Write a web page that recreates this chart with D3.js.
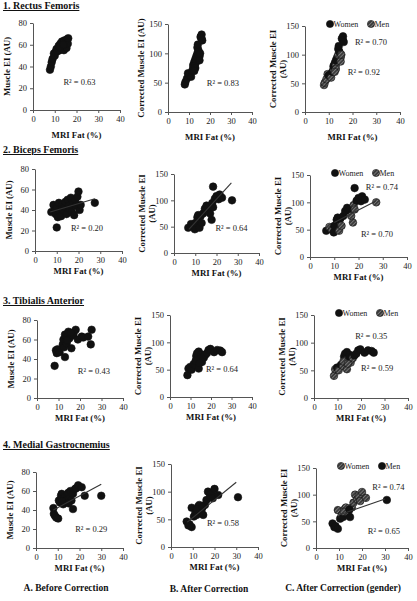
<!DOCTYPE html>
<html><head><meta charset="utf-8">
<script src="https://cdn.jsdelivr.net/npm/d3@7"></script>
<style>
body{margin:0;background:#fff;}
svg{display:block;font-family:"Liberation Serif","DejaVu Serif",serif;}
</style></head>
<body><svg id="c" width="417" height="601"></svg>
<script>
// ---------------- DATA ----------------
const xTicks = [0, 10, 20, 30, 40];
const yTicksBefore = [0, 20, 40, 60, 80];
const yTicksCorrected = [0, 50, 100, 150];
const muscleTitles = ["1. Rectus Femoris", "2. Biceps Femoris", "3. Tibialis Anterior", "4. Medial Gastrocnemius"];
const columnCaptions = ["A. Before Correction", "B. After Correction", "C. After Correction (gender)"];
const legendLabels = ["Women", "Men"];

// 1. Rectus Femoris
const rfFatA = [7.8, 8.2, 8.6, 9.0, 9.6, 10.0, 10.3, 10.8, 11.3, 11.8, 12.2, 12.6, 13.0, 13.3, 13.6, 13.9, 14.2, 14.5, 14.8, 15.1, 15.4, 15.7, 16.0, 16.2, 12.4, 14.0];
const rfEIA  = [37, 40, 44, 47, 52, 50, 53, 56, 54, 59, 55, 61, 57, 63, 58, 61, 55, 64, 59, 62, 57, 65, 61, 66, 58, 60];
const rfFatB = [8.0, 8.3, 9.0, 9.5, 10.0, 11.0, 11.5, 12.0, 12.0, 12.5, 13.0, 13.0, 13.5, 14.0, 14.0, 14.5, 14.2, 15.0, 15.0, 15.5, 16.0, 16.0, 16.3, 15.3, 13.0, 12.5];
const rfEIB  = [47, 51, 57, 66, 64, 60, 70, 75, 80, 85, 82, 90, 95, 100, 110, 105, 115, 95, 88, 128, 132, 125, 122, 100, 75, 70];
const rfSex  = ["M","M","M","M","W","M","W","M","W","W","M","W","W","M","W","W","W","M","M","W","W","W","W","M","M","M"];

// 2. Biceps Femoris
const bfFatA = [7.5, 8.5, 9.0, 9.5, 10.0, 10.0, 10.5, 11.0, 11.5, 12.0, 12.5, 13.0, 13.5, 14.0, 14.5, 15.0, 15.5, 16.0, 16.5, 17.0, 17.5, 18.0, 18.5, 19.0, 19.5, 20.0, 20.5, 21.0, 27.5];
const bfEIA  = [38, 45, 40, 36, 42, 23, 33, 47, 38, 34, 45, 40, 43, 48, 36, 50, 44, 41, 52, 38, 47, 35, 50, 44, 53, 58, 40, 45, 47];
const bfFatB = [6.7, 8.0, 9.0, 9.8, 10.0, 11.0, 11.4, 12.0, 12.5, 13.0, 13.7, 14.5, 15.3, 16.0, 16.5, 17.0, 17.7, 18.0, 18.4, 18.4, 19.2, 20.0, 21.0, 21.5, 22.6, 27.3];
const bfEIB  = [48, 55, 50, 45, 57, 68, 72, 48, 70, 57, 75, 84, 90, 85, 88, 75, 63, 95, 87, 126, 103, 108, 102, 111, 105, 100];
const bfSex  = ["W","M","M","W","W","W","W","M","W","M","W","W","W","W","W","M","M","M","M","W","W","W","W","W","W","M"];

// 3. Tibialis Anterior
const taFatA = [8.2, 8.8, 9.2, 9.6, 10.5, 12.0, 12.3, 12.6, 13.0, 13.0, 13.4, 13.8, 14.2, 14.6, 15.0, 15.4, 16.0, 16.5, 17.0, 18.0, 19.0, 20.8, 21.5, 23.8, 25.0, 25.4, 14.0, 15.8];
const taEIA  = [33, 49, 46, 50, 47, 55, 60, 52, 65, 42, 58, 56, 63, 68, 61, 66, 51, 64, 66, 70, 60, 63, 62, 63, 55, 70, 59, 67];
const taFatB = [8.5, 9.0, 9.8, 10.5, 11.5, 12.3, 12.8, 13.2, 13.5, 14.0, 14.0, 14.8, 15.2, 15.6, 16.0, 16.5, 17.2, 18.0, 18.8, 19.7, 21.5, 23.0, 24.5, 25.4, 12.5, 14.4];
const taEIB  = [40, 52, 55, 50, 60, 58, 75, 80, 68, 83, 52, 70, 78, 64, 74, 72, 77, 80, 86, 88, 82, 86, 85, 82, 66, 62];
const taSex  = ["M","M","W","M","W","M","W","W","M","W","M","W","W","M","W","M","W","W","W","W","W","W","W","W","M","M"];

// 4. Medial Gastrocnemius
const mgFatA = [8.0, 8.2, 8.7, 9.3, 10.2, 10.5, 11.0, 11.5, 11.8, 12.2, 12.5, 13.0, 13.3, 13.8, 14.3, 14.8, 15.3, 15.8, 16.3, 17.0, 17.0, 17.9, 18.5, 19.4, 21.0, 22.4, 30.0, 12.0, 15.0];
const mgEIA  = [42, 36, 34, 32, 31, 50, 48, 55, 57, 52, 46, 54, 53, 50, 56, 58, 52, 60, 50, 57, 41, 62, 63, 66, 64, 55, 55, 49, 47];
const mgFatB = [7.2, 8.0, 8.5, 9.5, 9.5, 10.5, 11.2, 11.8, 12.5, 13.0, 13.5, 14.0, 14.8, 15.6, 16.3, 17.0, 17.9, 18.5, 19.2, 20.0, 21.7, 30.8, 12.0, 14.5];
const mgEIB  = [46, 39, 41, 36, 71, 55, 62, 58, 73, 76, 64, 67, 58, 76, 85, 100, 91, 97, 88, 105, 94, 90, 68, 72];
const mgSex  = ["M","M","M","M","W","M","W","M","W","W","M","W","M","W","W","W","W","W","W","W","W","M","W","M"];

// Visible trend lines [x0, y0, x1, y1] in data units
const fitBF_A = [7, 38, 27.5, 51];
const fitBF_B = [7, 45, 27, 133];
const fitBF_Cmen = [10, 63, 27, 102];
const fitMG_A = [8, 40, 30, 67];
const fitMG_B = [7.5, 45, 30, 117];
const fitMG_Cmen = [10, 62, 30, 92];

// R² values
const r2A = ["0.63", "0.20", "0.43", "0.29"];
const r2B = ["0.83", "0.64", "0.64", "0.58"];
const r2CWomen = ["0.70", "0.74", "0.35", "0.74"];
const r2CMen = ["0.92", "0.70", "0.59", "0.65"];

// ---------------- DRAW ----------------
const svg = d3.select("#c");
const defs = svg.append("defs");
const pat = defs.append("pattern").attr("id","hatch").attr("patternUnits","userSpaceOnUse")
  .attr("width",2.6).attr("height",2.6).attr("patternTransform","rotate(45)");
pat.append("rect").attr("width",2.6).attr("height",2.6).attr("fill","#3a3a3a");
pat.append("line").attr("x1",0).attr("y1",0).attr("x2",0).attr("y2",2.6).attr("stroke","#b5b5b5").attr("stroke-width",0.9);

const FS_TICK = 8.5, FS_AXT = 8.8, FS_R2 = 8.5;

const muscles = [
  {fatA: rfFatA, eiA: rfEIA, fatB: rfFatB, eiB: rfEIB, sex: rfSex, fitA: null, fitB: null, fitC: null},
  {fatA: bfFatA, eiA: bfEIA, fatB: bfFatB, eiB: bfEIB, sex: bfSex, fitA: fitBF_A, fitB: fitBF_B, fitC: fitBF_Cmen},
  {fatA: taFatA, eiA: taEIA, fatB: taFatB, eiB: taEIB, sex: taSex, fitA: null, fitB: null, fitC: null},
  {fatA: mgFatA, eiA: mgEIA, fatB: mgFatB, eiB: mgEIB, sex: mgSex, fitA: fitMG_A, fitB: fitMG_B, fitC: fitMG_Cmen}
];

// layout: pixel frame for each panel: [x at 0, x at 40, y at top value, y at 0]
const frames = [
  [[33,120,23,110],[168,252,24,112],[305,400,26,112]],
  [[35,122,169,251],[174,259,174,253],[310,407,175,257]],
  [[37,123,320,398],[170,252,315,397],[314,408,315,398]],
  [[36,123,472,548],[171,258,464,547],[316,408,468,548]]
];
const titleY = [9, 153, 304, 448];
// R² label anchor in data units
const r2PosA = [[14,23],[16.5,20],[19,25],[18,17]];
const r2PosB = [[18.5,44],[19.5,41],[17.5,46],[16.5,38]];
const r2PosCW = [[21,116],[23,122],[17.5,106],[24.5,108]];
const r2PosCM = [[18,65],[21,37],[20,48],[22.5,27]];

function drawAxes(g, x, y, yTicks){
  const xa = g.append("g").attr("transform",`translate(0,${y.range()[0]})`)
    .call(d3.axisBottom(x).tickValues(xTicks).tickSize(3).tickPadding(3).tickSizeOuter(0));
  const ya = g.append("g").attr("transform",`translate(${x.range()[0]},0)`)
    .call(d3.axisLeft(y).tickValues(yTicks).tickSize(3).tickPadding(3).tickSizeOuter(0));
  [xa, ya].forEach(a=>{
    a.selectAll("path,line").attr("stroke","#555").attr("stroke-width",1);
    a.selectAll("text").attr("font-size",FS_TICK).attr("fill","#222").attr("font-family","Liberation Serif");
  });
}

function drawPoints(g, x, y, fx, fy, sex, styleFor){
  g.selectAll(null).data(fx.map((v,i)=>({x:v,y:fy[i],s:sex?sex[i]:"W"}))).enter()
    .append("circle").attr("cx",d=>x(d.x)).attr("cy",d=>y(d.y)).attr("r",3.8)
    .attr("fill",d=>styleFor(d.s)).attr("stroke","#111").attr("stroke-width",0.6);
}

function drawFit(g, x, y, f){
  if(!f) return;
  g.append("line").attr("x1",x(f[0])).attr("y1",y(f[1])).attr("x2",x(f[2])).attr("y2",y(f[3]))
    .attr("stroke","#333").attr("stroke-width",1.1);
}

function r2Text(g, x, y, pos, val){
  g.append("text").attr("x",x(pos[0])).attr("y",y(pos[1])).attr("font-size",FS_R2).attr("fill","#222")
    .text("R² = " + val);
}

muscles.forEach((m, r)=>{
  svg.append("text").attr("x",3).attr("y",titleY[r]).attr("font-size",10).attr("font-weight","bold")
    .attr("text-decoration","underline").attr("fill","#111").text(muscleTitles[r]);

  for(let c=0;c<3;c++){
    const fr = frames[r][c];
    const x = d3.scaleLinear().domain([0,40]).range([fr[0],fr[1]]);
    const ymax = c===0 ? 80 : 150;
    const y = d3.scaleLinear().domain([0,ymax]).range([fr[3],fr[2]]);
    const g = svg.append("g");
    drawAxes(g, x, y, c===0 ? yTicksBefore : yTicksCorrected);

    // x title
    g.append("text").attr("x",(fr[0]+fr[1])/2).attr("y",fr[3]+(r===0?28:23))
      .attr("text-anchor","middle").attr("font-size",FS_AXT).attr("font-weight","bold").attr("fill","#111").text("MRI Fat (%)");

    // y title
    const cy = (fr[2]+fr[3])/2;
    if(c===0){
      g.append("text").attr("transform",`translate(${fr[0]-23},${cy}) rotate(-90)`).attr("text-anchor","middle")
        .attr("font-size",FS_AXT).attr("font-weight","bold").attr("fill","#111").text("Muscle EI (AU)");
    } else if(c===1 && r===0){
      g.append("text").attr("transform",`translate(${fr[0]-24},${cy}) rotate(-90)`).attr("text-anchor","middle")
        .attr("font-size",FS_AXT).attr("font-weight","bold").attr("fill","#111").text("Corrected Muscle EI (AU)");
    } else {
      const lx = fr[0]-29;
      g.append("text").attr("transform",`translate(${lx},${cy}) rotate(-90)`).attr("text-anchor","middle")
        .attr("font-size",FS_AXT).attr("font-weight","bold").attr("fill","#111").text("Corrected Muscle EI");
      g.append("text").attr("transform",`translate(${lx+10},${cy}) rotate(-90)`).attr("text-anchor","middle")
        .attr("font-size",FS_AXT).attr("font-weight","bold").attr("fill","#111").text("(AU)");
    }

    if(c===0){
      drawPoints(g, x, y, m.fatA, m.eiA, null, ()=>"#111");
      drawFit(g, x, y, m.fitA);
      r2Text(g, x, y, r2PosA[r], r2A[r]);
    } else if(c===1){
      drawPoints(g, x, y, m.fatB, m.eiB, null, ()=>"#111");
      drawFit(g, x, y, m.fitB);
      r2Text(g, x, y, r2PosB[r], r2B[r]);
    } else {
      // row 4 has swapped legend styles (women hatched, men solid)
      const womenStyle = r===3 ? "url(#hatch)" : "#111";
      const menStyle = r===3 ? "#111" : "url(#hatch)";
      drawPoints(g, x, y, m.fatB, m.eiB, m.sex, s=> s==="W" ? womenStyle : menStyle);
      drawFit(g, x, y, m.fitC);
      r2Text(g, x, y, r2PosCW[r], r2CWomen[r]);
      r2Text(g, x, y, r2PosCM[r], r2CMen[r]);
      // legend
      const ly = fr[2] - 2;
      [[womenStyle, legendLabels[0], fr[0]+25],[menStyle, legendLabels[1], fr[0]+66]].forEach(([st,lab,lx])=>{
        g.append("circle").attr("cx",lx).attr("cy",ly).attr("r",3.6).attr("fill",st).attr("stroke","#111").attr("stroke-width",0.6);
        g.append("text").attr("x",lx+3.5).attr("y",ly+3).attr("font-size",8).attr("fill","#222").text(lab);
      });
    }
  }
});

// column captions
[[66,591],[209,592],[343,591]].forEach((p,i)=>{
  svg.append("text").attr("x",p[0]).attr("y",p[1]).attr("text-anchor","middle").attr("font-size",9.5)
    .attr("font-weight","bold").attr("fill","#111").text(columnCaptions[i]);
});
</script></body></html>
